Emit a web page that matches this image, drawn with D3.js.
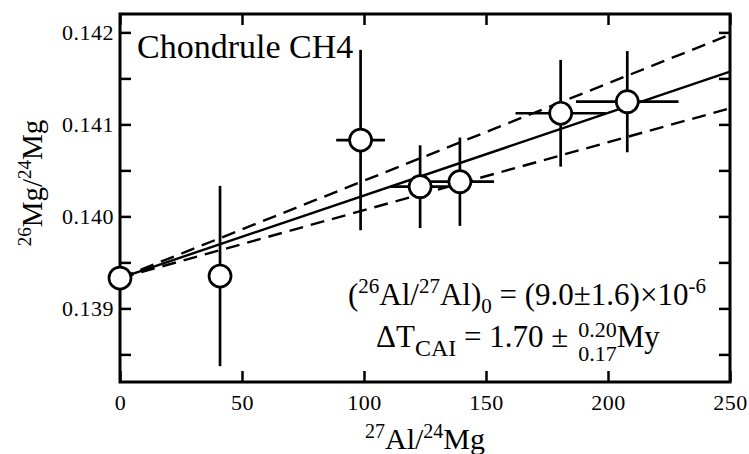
<!DOCTYPE html>
<html>
<head>
<meta charset="utf-8">
<script src="https://cdn.jsdelivr.net/npm/d3@7"></script>
<style>
  body { margin: 0; background: #fff; }
  svg { display: block; font-family: "Liberation Serif", "DejaVu Serif", serif; }
</style>
</head>
<body>
<div id="chart"></div>
<script>
// 27Al/24Mg (x) with 2-sigma errors
const alMg = [0, 41, 98.6, 123, 139.3, 180.6, 207.9];
const alMgErr = [0, 0, 10, 12.3, 14, 18.5, 21];
// 26Mg/24Mg (y) with errors
const mgRatio = [0.13933, 0.139352, 0.14083, 0.140323, 0.140377, 0.141121, 0.141247];
const mgErr = [0, 0.00098, 0.00098, 0.00045, 0.00048, 0.00058, 0.00055];

// isochron: best fit and the two error envelopes
const fitIntercept = 0.13933;
const fitSlopes = [8.97e-6, 1.058e-5, 7.38e-6];
const fitDashed = [false, true, true];

const xTicks = [0, 50, 100, 150, 200, 250];
const yTicks = [0.1385, 0.139, 0.1395, 0.140, 0.1405, 0.141, 0.1415, 0.142];
const yLabelled = [0.139, 0.140, 0.141, 0.142];

const width = 749, height = 454;
const margin = {top: 14, right: 19, bottom: 72, left: 120};
const serif = '"Liberation Serif", "DejaVu Serif", serif';

const svg = d3.select('#chart').append('svg')
    .attr('width', width)
    .attr('height', height);

const x = d3.scaleLinear().domain([0, 250]).range([margin.left, width - margin.right]);
const y = d3.scaleLinear().domain([0.1382, 0.1422]).range([height - margin.bottom, margin.top]);

const x0 = x.range()[0], x1 = x.range()[1];
const y0 = y.range()[0], y1 = y.range()[1];

// axes (ticks point inward on all four sides)
function styleAxis(g) {
    g.attr('font-family', serif).attr('font-size', 22);
    g.select('.domain').remove();
    g.selectAll('.tick line').attr('stroke', '#000').attr('stroke-width', 2.5);
    g.selectAll('.tick text')
        .attr('fill', '#000')
        .style('letter-spacing', '0.5px');
}

svg.append('g')
    .attr('transform', `translate(0,${y0})`)
    .call(d3.axisBottom(x).tickValues(xTicks).tickSize(-11).tickPadding(12).tickFormat(d3.format('d')))
    .call(styleAxis);

svg.append('g')
    .attr('transform', `translate(0,${y1})`)
    .call(d3.axisTop(x).tickValues(xTicks).tickSize(-11).tickFormat(''))
    .call(styleAxis);

svg.append('g')
    .attr('transform', `translate(${x0},0)`)
    .call(d3.axisLeft(y).tickValues(yTicks).tickSize(-11).tickPadding(6)
        .tickFormat(d => yLabelled.some(v => Math.abs(v - d) < 1e-9) ? d3.format('.3f')(d) : ''))
    .call(styleAxis);

svg.append('g')
    .attr('transform', `translate(${x1},0)`)
    .call(d3.axisRight(y).tickValues(yTicks).tickSize(-11).tickFormat(''))
    .call(styleAxis);

svg.append('rect')
    .attr('x', x0).attr('y', y1)
    .attr('width', x1 - x0).attr('height', y0 - y1)
    .attr('fill', 'none').attr('stroke', '#000').attr('stroke-width', 3);

// fit lines
const plot = svg.append('g');
plot.selectAll('line.fit')
    .data(fitSlopes)
    .join('line')
    .attr('class', 'fit')
    .attr('x1', x(0)).attr('y1', y(fitIntercept))
    .attr('x2', x(250)).attr('y2', s => y(fitIntercept + s * 250))
    .attr('stroke', '#000')
    .attr('stroke-width', 2.4)
    .attr('stroke-dasharray', (s, i) => fitDashed[i] ? '14,8' : null);

// error bars
const pts = alMg.map((v, i) => ({x: v, y: mgRatio[i], ex: alMgErr[i], ey: mgErr[i]}));

plot.selectAll('line.ey')
    .data(pts.filter(d => d.ey > 0))
    .join('line')
    .attr('x1', d => x(d.x)).attr('x2', d => x(d.x))
    .attr('y1', d => y(d.y - d.ey)).attr('y2', d => y(d.y + d.ey))
    .attr('stroke', '#000').attr('stroke-width', 2.7);

plot.selectAll('line.ex')
    .data(pts.filter(d => d.ex > 0))
    .join('line')
    .attr('x1', d => x(d.x - d.ex)).attr('x2', d => x(d.x + d.ex))
    .attr('y1', d => y(d.y)).attr('y2', d => y(d.y))
    .attr('stroke', '#000').attr('stroke-width', 2.7);

plot.selectAll('circle')
    .data(pts)
    .join('circle')
    .attr('cx', d => x(d.x)).attr('cy', d => y(d.y))
    .attr('r', 11)
    .attr('fill', '#fff')
    .attr('stroke', '#000').attr('stroke-width', 2.7);

// title inside plot
svg.append('text')
    .attr('x', 137).attr('y', 58)
    .style('font-size', '34px')
    .text('Chondrule CH4');

// axis titles
const xt = svg.append('text')
    .attr('x', x(125)).attr('y', 449)
    .attr('text-anchor', 'middle')
    .style('font-size', '30px');
xt.append('tspan').attr('dy', -11).style('font-size', '20px').text('27');
xt.append('tspan').attr('dy', 11).text('Al/');
xt.append('tspan').attr('dy', -11).style('font-size', '20px').text('24');
xt.append('tspan').attr('dy', 11).text('Mg');

const yt = svg.append('text')
    .attr('transform', 'translate(42,183) rotate(-90)')
    .attr('text-anchor', 'middle')
    .style('font-size', '29px');
yt.append('tspan').attr('dy', -11).style('font-size', '19px').text('26');
yt.append('tspan').attr('dy', 11).text('Mg/');
yt.append('tspan').attr('dy', -11).style('font-size', '19px').text('24');
yt.append('tspan').attr('dy', 11).text('Mg');

// annotation line 1
const a1 = svg.append('text')
    .attr('x', 348).attr('y', 305)
    .style('font-size', '31px');
a1.append('tspan').text('(');
a1.append('tspan').attr('dy', -12).style('font-size', '21px').text('26');
a1.append('tspan').attr('dy', 12).text('Al/');
a1.append('tspan').attr('dy', -12).style('font-size', '21px').text('27');
a1.append('tspan').attr('dy', 12).text('Al)');
a1.append('tspan').attr('dy', 8).style('font-size', '21px').text('0');
a1.append('tspan').attr('dy', -8).text(' = (9.0±1.6)×10');
a1.append('tspan').attr('dy', -12).style('font-size', '21px').text('-6');

// annotation line 2
const a2 = svg.append('text')
    .attr('x', 376).attr('y', 347)
    .style('font-size', '31px');
a2.append('tspan').text('ΔT');
a2.append('tspan').attr('dy', 9).style('font-size', '24px').text('CAI');
a2.append('tspan').attr('dy', -9).text(' = 1.70 ±');
const a2w = a2.node().getComputedTextLength() + 10;
const s1 = svg.append('text')
    .attr('x', 376 + a2w).attr('y', 337)
    .style('font-size', '22px')
    .text('0.20');
svg.append('text')
    .attr('x', 376 + a2w).attr('y', 361)
    .style('font-size', '22px')
    .text('0.17');
svg.append('text')
    .attr('x', 376 + a2w + s1.node().getComputedTextLength()).attr('y', 347)
    .style('font-size', '31px')
    .text('My');
</script>
</body>
</html>
